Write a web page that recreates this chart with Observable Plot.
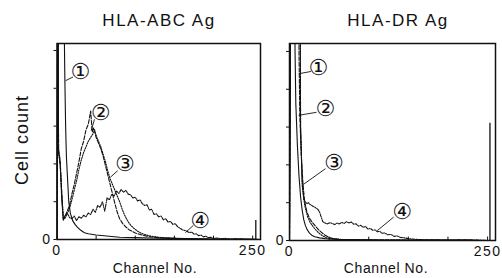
<!DOCTYPE html>
<html><head><meta charset="utf-8">
<script src="https://cdn.jsdelivr.net/npm/d3@7"></script>
<script src="https://cdn.jsdelivr.net/npm/@observablehq/plot@0.6"></script>
<style>
body{margin:0;background:#fff;}
#wrap{position:relative;width:502px;height:278px;overflow:hidden;font-family:"Liberation Sans",Arial,sans-serif;color:#111;}
.t{position:absolute;white-space:nowrap;line-height:1;}
.p{position:absolute;top:0;}
g[aria-label="x-axis tick label"] text{letter-spacing:1.5px;}
</style></head><body><div id="wrap"></div>
<script>
// ---------- data: HLA-ABC Ag panel ----------
const abcCh1 = [0,1,8,9,10,11,12,13.5,15,17,20,23,26,30,35,40,50,60,70,80,100,120,150,180,210,250,260];
const abcV1  = [0,9,9,6,4.3,3.0,2.2,1.6,1.0,0.7,0.5,0.4,0.33,0.25,0.18,0.15,0.12,0.1,0.08,0.06,0.05,0.04,0.03,0.02,0.01,0.01,0];

const abcCh2 = [0,1,2,4,6,8,10,13,16,19,22,25,28,31,34,37,40,43,45,47,50,53,56,59,62,65,68,71,74,77,80,84,88,92,96,100,105,110,115,120,130,140,150,160,175,190,210,230,250,260];
const abcV2  = [0,8,2.4,2.1,1.3,0.55,0.6,0.75,0.9,1.2,1.45,1.75,2.05,2.4,2.6,2.9,3.05,3.4,2.85,2.95,2.7,2.55,2.4,2.2,1.95,1.7,1.45,1.2,0.95,0.72,0.55,0.42,0.33,0.26,0.22,0.17,0.14,0.11,0.09,0.07,0.05,0.04,0.03,0.02,0.01,0.01,0,0,0,0];

const abcCh3 = [0,1,2,4,6,8,10,13,16,19,22,25,28,31,34,37,40,43,46,48,50,53,56,59,62,65,68,71,74,77,80,83,86,90,94,98,103,108,114,120,130,140,150,165,180,200,230,260];
const abcV3  = [0,8,2.3,2.0,1.2,0.6,0.55,0.68,0.82,1.05,1.3,1.55,1.85,2.1,2.3,2.45,2.6,2.7,2.8,2.9,2.75,2.6,2.45,2.25,2.05,1.8,1.6,1.45,1.3,1.15,1.0,0.82,0.66,0.5,0.38,0.3,0.22,0.16,0.12,0.09,0.06,0.04,0.03,0.02,0.01,0,0,0];

const abcCh4 = [0,1,2,4,6,8,10,13,16,19,22,25,28,31,34,37,40,43,46,49,52,55,58,61,64,67,70,73,76,79,82,85,88,91,94,97,100,103,106,109,112,115,118,121,124,127,130,133,136,139,142,145,148,151,154,157,160,163,166,169,172,175,178,181,184,187,190,193,196,200,205,210,215,220,230,240,250,260];
const abcV4  = [0,8,2.3,2.0,1.1,0.5,0.62,0.7,0.58,0.55,0.62,0.5,0.6,0.56,0.64,0.6,0.7,0.66,0.8,0.72,0.9,0.85,1.0,0.75,1.1,1.05,1.2,1.15,1.28,1.22,1.32,1.25,1.3,1.2,1.18,1.1,1.12,1.02,1.05,0.95,0.9,0.92,0.78,0.8,0.66,0.68,0.6,0.62,0.52,0.55,0.46,0.48,0.4,0.42,0.34,0.3,0.26,0.24,0.22,0.18,0.2,0.14,0.15,0.1,0.12,0.07,0.09,0.05,0.06,0.03,0.04,0.02,0.03,0.01,0.02,0.01,0,0];

const abcSpikeCh = [254];
const abcSpikeV  = [0.5];

const abcLabelText = ["①","②","③","④"];
const abcLabelCh = [30,55.6,86.7,183];
const abcLabelV  = [4.42,3.34,2.0,0.48];
const abcLeadCh1 = [20.5,47.9,77.5,174];
const abcLeadV1  = [4.3,3.18,1.82,0.37];
const abcLeadCh2 = [10.9,43.7,68.4,164];
const abcLeadV2  = [4.2,2.88,1.65,0.18];

// ---------- data: HLA-DR Ag panel ----------
const drCh1 = [0,1,6,7,8,10,12,14,16,18,20,22,25,28,32,38,45,60,80,120,200,250,260];
const drV1  = [0,9,9,5,3.6,2.5,1.7,1.15,0.8,0.55,0.4,0.3,0.2,0.14,0.1,0.07,0.05,0.03,0.02,0.01,0.01,0,0];

const drCh2 = [0,2,11,12,13,15,17,19,22,25,28,32,36,40,45,50,55,65,90,130,260];
const drV2  = [0,9,9,5,3.3,2.2,1.5,1.05,0.75,0.6,0.5,0.4,0.3,0.22,0.14,0.08,0.05,0.03,0.02,0.01,0];

const drCh3 = [0,2,13,14,16,18,20,23,26,30,34,38,42,46,52,60,80,120,260];
const drV3  = [0,9,9,3,1.45,1.1,0.85,0.62,0.48,0.36,0.26,0.18,0.12,0.08,0.05,0.03,0.02,0.01,0];

const drCh4 = [0,2,13,14,16,18,20,22,24,26,28,30,32,34,36,38,40,42,45,48,51,54,57,60,63,66,69,72,75,78,81,84,87,90,93,96,99,102,105,108,111,114,117,120,124,128,132,136,140,145,150,155,160,170,180,200,220,240,250,260];
const drV4  = [0,9,9,3,1.6,1.1,1.02,0.98,1.0,0.95,0.93,0.9,0.88,0.85,0.82,0.75,0.62,0.5,0.46,0.44,0.47,0.45,0.42,0.46,0.44,0.48,0.45,0.5,0.46,0.49,0.43,0.44,0.38,0.4,0.35,0.37,0.3,0.32,0.27,0.28,0.23,0.24,0.19,0.2,0.15,0.16,0.11,0.12,0.08,0.07,0.05,0.04,0.03,0.02,0.02,0.01,0.02,0.01,0,0];

const drSpikeCh = [253];
const drSpikeV  = [3.1];

const drLabelText = ["①","②","③","④"];
const drLabelCh = [36.5,45.4,56,142];
const drLabelV  = [4.57,3.49,2.05,0.75];
const drLeadCh1 = [27,34,45.4,131.5];
const drLeadV1  = [4.47,3.39,1.9,0.62];
const drLeadCh2 = [11.7,11.4,16,110.7];
const drLeadV2  = [4.41,3.31,1.46,0.26];

const yTicks = [0,1,2,3,4,5];
const xMinorTicks = [50,100,150,200,250];
const xLabelTicks = [0,250];
const dashes = [null,"4,1.6","1.3,1.3","3,1.2,1,1.2"];

// ---------- drawing ----------
const ink = "#111";
const rows = (ch, v) => ch.map((c, i) => ({c, v: v[i]}));

function panel({w, ml, mr, mt, mb, yMax, curves, sCh, sV, lt, lc, lv, c1, v1, c2, v2, yPad}) {
  const labs = lt.map((t, i) => ({t, lc: lc[i], lv: lv[i], c1: c1[i], v1: v1[i], c2: c2[i], v2: v2[i]}));
  return Plot.plot({
    width: w, height: 278,
    marginLeft: ml, marginRight: mr, marginTop: mt, marginBottom: mb,
    style: {background: "transparent", color: ink, fontSize: "14px", fontFamily: "'Liberation Sans', Arial, sans-serif"},
    x: {domain: [0, 260]},
    y: {domain: [0, yMax]},
    marks: [
      ...curves.map((cv, k) => Plot.line(rows(cv[0], cv[1]), {x: "c", y: "v", stroke: ink, strokeWidth: 1.1, strokeDasharray: dashes[k], clip: true})),
      Plot.ruleX(sCh.map((c, i) => ({c, v: sV[i]})), {x: "c", y1: 0, y2: "v", stroke: ink, strokeWidth: 1.3}),
      Plot.ruleX(xMinorTicks, {y1: 0, y2: 0.09, stroke: ink}),
      Plot.frame({stroke: ink, strokeWidth: 1.5}),
      Plot.axisY(yTicks, {tickSize: 3, tickPadding: yPad, tickFormat: d => d === 0 ? "0" : "", fontSize: 14, label: null, stroke: ink}),
      Plot.axisX(xLabelTicks, {tickSize: 0, tickPadding: 6, fontSize: 14, label: null}),
      Plot.link(labs, {x1: "c1", y1: "v1", x2: "c2", y2: "v2", stroke: ink, strokeWidth: 0.9}),
      Plot.text(labs, {x: "lc", y: "lv", text: "t", fontSize: 22, fontFamily: "DejaVu Sans", fill: ink})
    ]
  });
}

const wrap = document.getElementById("wrap");

const left = panel({w: 270, ml: 56.5, mr: 10, mt: 43, mb: 39, yMax: 5.185,
  curves: [[abcCh1, abcV1], [abcCh2, abcV2], [abcCh3, abcV3], [abcCh4, abcV4]],
  sCh: abcSpikeCh, sV: abcSpikeV,
  lt: abcLabelText, lc: abcLabelCh, lv: abcLabelV, c1: abcLeadCh1, v1: abcLeadV1, c2: abcLeadCh2, v2: abcLeadV2, yPad: 4});
left.classList.add("p"); left.style.left = "0px";
wrap.appendChild(left);

const right = panel({w: 232, ml: 19, mr: 7, mt: 43, mb: 38, yMax: 5.21,
  curves: [[drCh1, drV1], [drCh2, drV2], [drCh3, drV3], [drCh4, drV4]],
  sCh: drSpikeCh, sV: drSpikeV,
  lt: drLabelText, lc: drLabelCh, lv: drLabelV, c1: drLeadCh1, v1: drLeadV1, c2: drLeadCh2, v2: drLeadV2, yPad: 3});
right.classList.add("p"); right.style.left = "270px";
wrap.appendChild(right);

function addText(txt, x, y, size, ls, rot) {
  const d = document.createElement("div");
  d.className = "t";
  d.textContent = txt;
  d.style.fontSize = size + "px";
  d.style.letterSpacing = ls + "px";
  d.style.left = x + "px";
  d.style.top = y + "px";
  d.style.transform = "translate(-50%,-50%)" + (rot ? " rotate(-90deg)" : "");
  wrap.appendChild(d);
}
addText("HLA-ABC Ag", 159, 20, 17, 1.5, false);
addText("HLA-DR Ag", 398, 20, 17, 1.5, false);
addText("Cell count", 22, 140, 18, 1, true);
addText("Channel No.", 155, 268, 14, 0.6, false);
addText("Channel No.", 386, 268, 14, 0.6, false);
</script></body></html>
